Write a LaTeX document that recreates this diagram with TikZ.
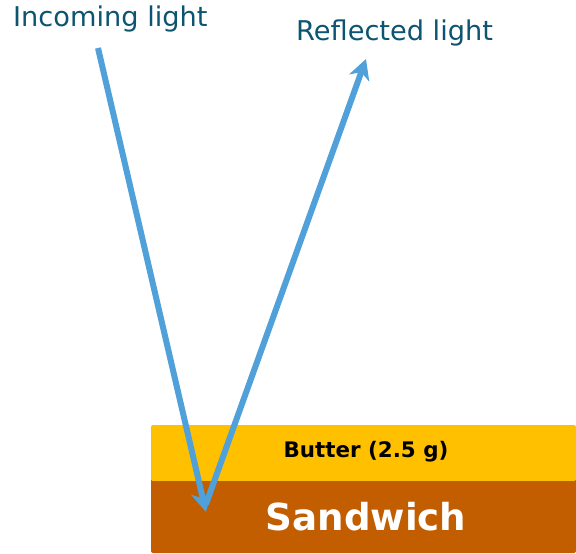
\documentclass[tikz,border=0pt]{standalone}
\usepackage{fontspec}
\setmainfont{DejaVu Sans}
\usetikzlibrary{arrows.meta}
\definecolor{labelteal}{RGB}{12,84,112}
\definecolor{raycol}{RGB}{80,160,218}
\definecolor{buttercol}{RGB}{255,192,0}
\definecolor{breadcol}{RGB}{194,93,0}
\tikzset{
  raylabel/.style={anchor=base west, inner sep=0pt, text=labelteal, font=\fontsize{27.2}{30}\selectfont},
  ray/.style={raycol, line width=6pt, -{Stealth[length=20pt, width=21pt, inset=6pt]}}
}
\begin{document}
\begin{tikzpicture}[x=1pt,y=-1pt]
  \useasboundingbox (0,0) rectangle (576,554);
  % layers
  \fill[breadcol, rounded corners=2pt] (151,478) rectangle (576,553);
  \fill[buttercol, rounded corners=2pt] (151,425) rectangle (576,481);
  \fill[breadcol] (151,481) rectangle (576,490);
  \node[font=\bfseries\fontsize{21.4}{24}\selectfont] (butter) at (366,452) {Butter (2.5 g)};
  \node[font=\bfseries\fontsize{37.2}{40}\selectfont, text=white] (bread) at (366,517) {Sandwich};
  % labels
  \node[raylabel] (inlab) at (13,27) {Incoming light};
  \node[raylabel] (outlab) at (296,40) {Reflected light};
  % rays
  \coordinate (src) at (98,48);
  \coordinate (hit) at (206,512);
  \coordinate (base) at (206,504);
  \coordinate (out) at (366,59);
  \draw[ray] (src) -- (hit);
  \draw[ray] (base) -- (out);
\end{tikzpicture}
\end{document}
